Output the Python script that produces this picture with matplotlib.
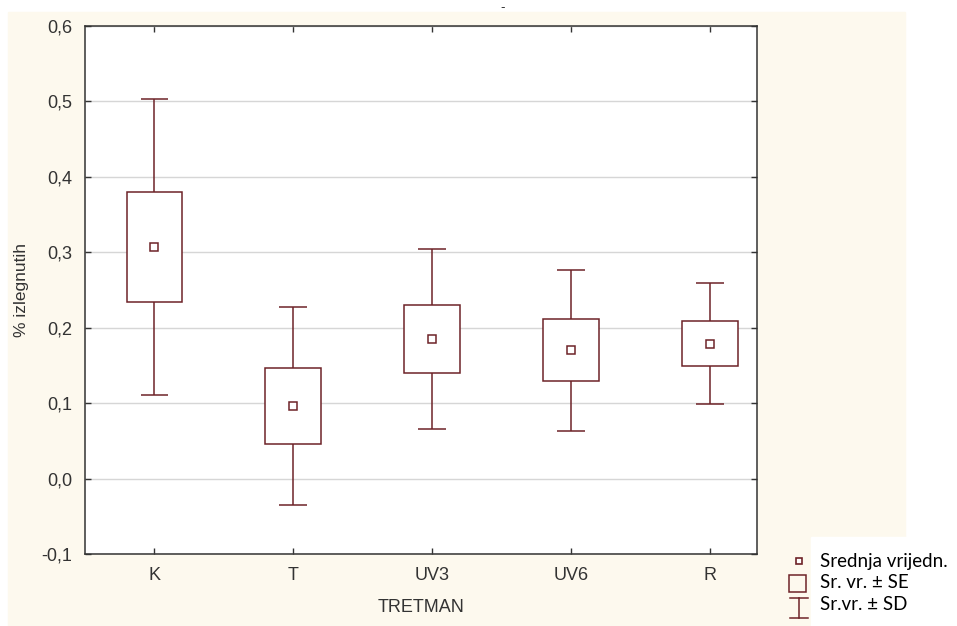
import matplotlib.pyplot as plt
from matplotlib.patches import Rectangle
from matplotlib.lines import Line2D

# podaci po tretmanu: srednja vrijednost, SE, SD
tretman = ['K', 'T', 'UV3', 'UV6', 'R']
sredina = [0.307, 0.096, 0.185, 0.170, 0.179]
se = [0.073, 0.050, 0.045, 0.041, 0.030]
sd = [0.196, 0.131, 0.119, 0.107, 0.080]

yticks = [-0.1, 0.0, 0.1, 0.2, 0.3, 0.4, 0.5, 0.6]
ytick_labels = ['-0,1', '0,0', '0,1', '0,2', '0,3', '0,4', '0,5', '0,6']

legend_labels = ['Srednja vrijedn.', 'Sr. vr. ± SE', 'Sr.vr. ± SD']

boja = '#6e2328'
W, H = 957, 626

fig = plt.figure(figsize=(W / 100, H / 100), dpi=100)
fig.patch.set_facecolor('white')

# krem pozadina i bijelo polje legende
fig.add_artist(Rectangle((8 / W, 0), (905 - 8) / W, 1 - 12 / H,
                         transform=fig.transFigure, color='#fdf9ee', zorder=0))
fig.add_artist(Rectangle((811 / W, 0), (W - 811) / W, (H - 537) / H,
                         transform=fig.transFigure, color='white', zorder=0))

ax = fig.add_axes([85 / W, 1 - 554 / H, (757 - 85) / W, (554 - 26) / H])
ax.set_facecolor('white')

for i, (m, s, d) in enumerate(zip(sredina, se, sd)):
    ax.add_patch(Rectangle((i - 0.2, m - s), 0.4, 2 * s, facecolor='white',
                           edgecolor=boja, lw=1.1, zorder=3))
    ax.vlines(i, m + s, m + d, color=boja, lw=1.1, zorder=3)
    ax.vlines(i, m - d, m - s, color=boja, lw=1.1, zorder=3)
    ax.hlines([m - d, m + d], i - 0.1, i + 0.1, color=boja, lw=1.1, zorder=3)
    ax.plot(i, m, marker='s', ms=5.5, mfc='white', mec=boja, mew=1.1, zorder=4)

ax.set_xlim(-0.5, 4.34)
ax.set_ylim(-0.1, 0.6)
ax.set_xticks(range(len(tretman)))
ax.set_xticklabels(tretman)
ax.set_yticks(yticks)
ax.set_yticklabels(ytick_labels)
ax.yaxis.grid(True, color='#d6d6d6', lw=1)
ax.set_axisbelow(True)
ax.tick_params(direction='in', length=4, width=1, top=True, right=True,
               labelsize=13, labelcolor='#333333', color='#333333', pad=9)
for t in ax.get_xticklabels() + ax.get_yticklabels():
    t.set_family('Liberation Sans')
for sp in ax.spines.values():
    sp.set_color('#333333')
    sp.set_linewidth(1.1)

ax.set_xlabel('TRETMAN', family='Liberation Sans', fontsize=13,
              color='#333333', labelpad=11)
ax.set_ylabel('% izlegnutih', family='Liberation Sans', fontsize=12.5,
              color='#333333', labelpad=9)

fig.text(503 / W, 1 - 8 / H, '-', ha='center', va='center', fontsize=9,
         color='#333333')

# legenda
def px(x, y):
    return x / W, 1 - y / H

tr = fig.transFigure
fig.add_artist(Line2D(*zip(px(799, 561)), marker='s', ms=5, mfc='white',
                      mec=boja, mew=1.2, transform=tr))
x0, y0 = px(789, 592)
fig.add_artist(Rectangle((x0, y0), 17 / W, 17 / H, facecolor='none',
                         edgecolor=boja, lw=1.1, transform=tr))
for xs, ys in [((799, 799), (598, 618)), ((790, 808), (598, 598)),
               ((790, 808), (618, 618))]:
    fig.add_artist(Line2D([x / W for x in xs], [1 - y / H for y in ys],
                          color=boja, lw=1.1, transform=tr))
for lab, y in zip(legend_labels, [561, 582, 605]):
    fig.text(820 / W, 1 - y / H, lab, ha='left', va='center', fontsize=13.5,
             family='Lato', color='black')

fig.savefig('out.png', dpi=100)
